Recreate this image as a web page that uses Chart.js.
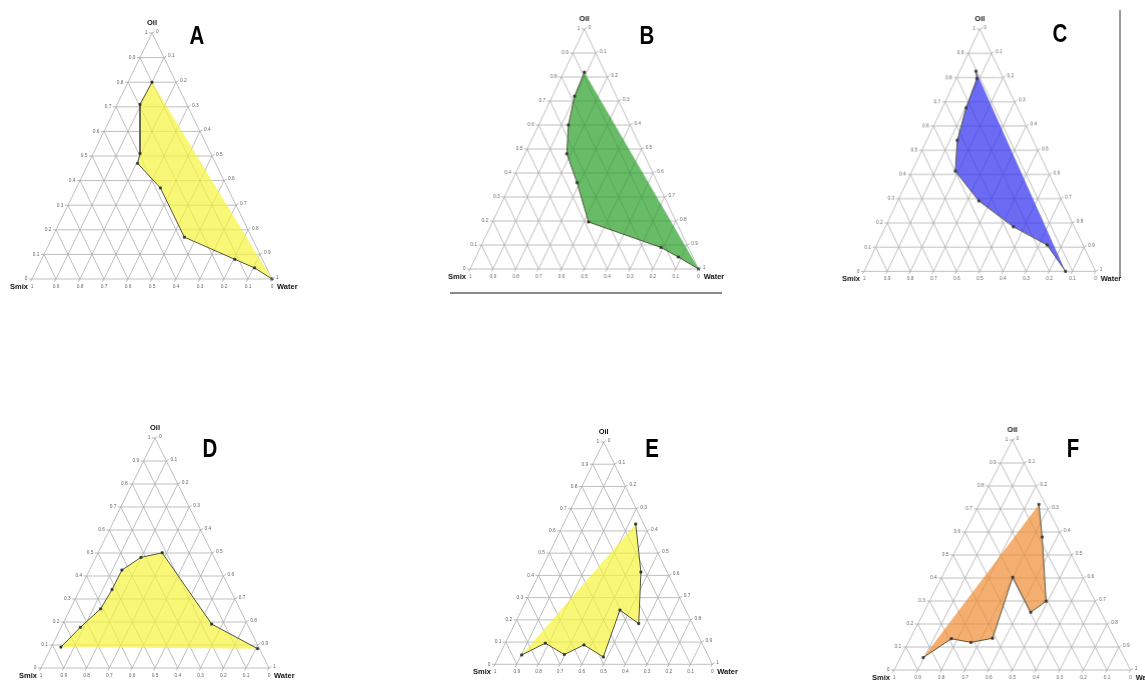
<!DOCTYPE html>
<html>
<head>
<meta charset="utf-8">
<script src="https://cdn.jsdelivr.net/npm/chart.js@4.4.1/dist/chart.umd.min.js"></script>
<style>
  html, body { margin: 0; padding: 0; background: #fff; width: 1145px; height: 680px; overflow: hidden; }
  .panel { position: absolute; }
  .letter { position: absolute; font-family: "Liberation Sans", Arial, sans-serif; font-weight: bold; font-size: 25px; color: #000; transform: translate(-50%, -50%) scaleX(0.82); line-height: 1; }
  .deco { position: absolute; background: #8a8a8a; }
</style>
</head>
<body>
<div class="deco" style="left:450px; top:292px; width:272px; height:2px;"></div>
<div class="deco" style="left:1119px; top:10px; width:1.5px; height:268px; background:#9a9a9a;"></div>
<script>
// ---------- data (ternary compositions: oil fraction, water fraction; Smix = 1 - oil - water) ----------
const panelNames = ['A', 'B', 'C', 'D', 'E', 'F'];
const gridTicks = [0.1, 0.2, 0.3, 0.4, 0.5, 0.6, 0.7, 0.8, 0.9];
const edgeTicks = [0, 0.1, 0.2, 0.3, 0.4, 0.5, 0.6, 0.7, 0.8, 0.9, 1];
const edgeTickLabels = ['0', '0.1', '0.2', '0.3', '0.4', '0.5', '0.6', '0.7', '0.8', '0.9', '1'];
const axisTitles = ['Oil', 'Smix', 'Water'];

const oilA   = [0.80, 0.71, 0.51, 0.47, 0.37, 0.17, 0.08, 0.045, 0.0];
const waterA = [0.10, 0.095, 0.195, 0.205, 0.35, 0.55, 0.805, 0.905, 1.0];

const oilB   = [0.82, 0.72, 0.60, 0.48, 0.36, 0.196, 0.09, 0.05, 0.0];
const waterB = [0.09, 0.097, 0.13, 0.183, 0.288, 0.42, 0.79, 0.886, 1.0];

const oilC   = [0.826, 0.796, 0.675, 0.541, 0.414, 0.291, 0.184, 0.109, 0.0];
const waterC = [0.07, 0.089, 0.103, 0.132, 0.187, 0.35, 0.553, 0.736, 0.87];

const oilD   = [0.091, 0.177, 0.257, 0.341, 0.426, 0.481, 0.501, 0.191, 0.084];
const waterD = [0.042, 0.084, 0.133, 0.141, 0.142, 0.198, 0.281, 0.653, 0.908];

const oilE   = [0.042, 0.095, 0.044, 0.087, 0.033, 0.244, 0.183, 0.415, 0.631];
const waterE = [0.102, 0.184, 0.297, 0.366, 0.482, 0.453, 0.57, 0.464, 0.332];

const oilF   = [0.054, 0.136, 0.12, 0.138, 0.403, 0.251, 0.299, 0.578, 0.72];
const waterF = [0.096, 0.174, 0.265, 0.347, 0.30, 0.452, 0.493, 0.337, 0.252];

const seriesOil   = [oilA, oilB, oilC, oilD, oilE, oilF];
const seriesWater = [waterA, waterB, waterC, waterD, waterE, waterF];

// ---------- layout / style (separate from data) ----------
const triBoxes = [
  { left: 31.7,  right: 271.7, top: 33.3,  bottom: 279.3, lx: 196.7, ly: 35 },
  { left: 470,   right: 697.7, top: 29.3,  bottom: 269.3, lx: 646.7, ly: 35 },
  { left: 864.3, right: 1095,  top: 29.3,  bottom: 270.7, lx: 1060,  ly: 33 },
  { left: 41,    right: 269,   top: 438.3, bottom: 668.3, lx: 210,   ly: 448 },
  { left: 495,   right: 712.3, top: 441.7, bottom: 664,   lx: 651.7, ly: 448 },
  { left: 894.3, right: 1130,  top: 440,   bottom: 670,   lx: 1073,  ly: 448 }
];
const fillColors = [
  'rgba(245,243,60,0.70)',
  'rgba(40,160,40,0.70)',
  'rgba(50,50,240,0.72)',
  'rgba(245,243,60,0.70)',
  'rgba(245,243,60,0.70)',
  'rgba(240,140,50,0.70)'
];
const PAD = { left: 40, right: 40, top: 25, bottom: 22 };

// ternary -> cartesian (Smix vertex at 0,0; Water vertex at 1,0; Oil vertex at 0.5,1)
function tern(oil, water) { return { x: water + oil / 2, y: oil }; }

function gridData() {
  const d = [];
  const seg = (a, b) => { d.push(a, b, { x: null, y: null }); };
  gridTicks.forEach(t => {
    seg(tern(t, 0), tern(t, 1 - t));          // constant oil
    seg(tern(0, t), tern(1 - t, t));          // constant water
    seg(tern(0, 1 - t), tern(1 - t, 0));      // constant smix
  });
  d.push(tern(0, 0), tern(0, 1), tern(1, 0), tern(0, 0));
  return d;
}

const ternaryLabels = {
  id: 'ternaryLabels',
  afterDraw(chart) {
    const ctx = chart.ctx;
    const xs = chart.scales.x, ys = chart.scales.y;
    const P = (p) => [xs.getPixelForValue(p.x), ys.getPixelForValue(p.y)];
    ctx.save();
    ctx.strokeStyle = '#9a9a9a';
    ctx.lineWidth = 0.7;
    ctx.fillStyle = '#666';
    ctx.font = '4.8px "Liberation Sans", Arial, sans-serif';
    edgeTicks.forEach((v, i) => {
      // left edge: oil fraction
      let [px, py] = P(tern(v, 0));
      ctx.beginPath(); ctx.moveTo(px - 3, py); ctx.lineTo(px, py); ctx.stroke();
      ctx.textAlign = 'right'; ctx.textBaseline = 'middle';
      ctx.fillText(edgeTickLabels[i], px - 4.5, py);
      // right edge: water fraction (1 - oil along the edge)
      [px, py] = P(tern(v, 1 - v));
      ctx.beginPath(); ctx.moveTo(px, py); ctx.lineTo(px + 2.5, py - 1.5); ctx.stroke();
      ctx.textAlign = 'left';
      ctx.fillText(edgeTickLabels[10 - i], px + 4, py - 1.5);
      // bottom edge: smix fraction
      [px, py] = P(tern(0, 1 - v));
      ctx.beginPath(); ctx.moveTo(px, py); ctx.lineTo(px - 1.5, py + 2.5); ctx.stroke();
      ctx.textAlign = 'center'; ctx.textBaseline = 'top';
      ctx.fillText(edgeTickLabels[i], px, py + 5);
    });
    ctx.fillStyle = '#111';
    ctx.font = 'bold 7.5px "Liberation Sans", Arial, sans-serif';
    let [ax, ay] = P(tern(1, 0));
    ctx.textAlign = 'center'; ctx.textBaseline = 'bottom';
    ctx.fillText(axisTitles[0], ax, ay - 6);
    ctx.font = 'bold 7.5px "Liberation Sans", Arial, sans-serif';
    let [sx, sy] = P(tern(0, 0));
    ctx.textAlign = 'right'; ctx.textBaseline = 'top';
    ctx.fillText(axisTitles[1], sx - 4, sy + 4);
    let [wx, wy] = P(tern(0, 1));
    ctx.textAlign = 'left';
    ctx.fillText(axisTitles[2], wx + 5, wy + 4);
    ctx.restore();
  }
};

panelNames.forEach((name, k) => {
  const b = triBoxes[k];
  const div = document.createElement('div');
  div.className = 'panel';
  div.style.left = (b.left - PAD.left) + 'px';
  div.style.top = (b.top - PAD.top) + 'px';
  div.style.width = (b.right - b.left + PAD.left + PAD.right) + 'px';
  div.style.height = (b.bottom - b.top + PAD.top + PAD.bottom) + 'px';
  const cv = document.createElement('canvas');
  div.appendChild(cv);
  document.body.appendChild(div);

  const lab = document.createElement('div');
  lab.className = 'letter';
  lab.style.left = b.lx + 'px';
  lab.style.top = b.ly + 'px';
  lab.textContent = name;
  document.body.appendChild(lab);

  const pts = seriesOil[k].map((o, i) => tern(o, seriesWater[k][i]));

  new Chart(cv, {
    type: 'scatter',
    data: {
      datasets: [
        {
          label: 'grid', data: gridData(), showLine: true, spanGaps: false,
          borderColor: '#aeaeae', borderWidth: 0.8, pointRadius: 0, fill: false, clip: false, order: 3
        },
        {
          label: 'region', data: pts, showLine: true, fill: 'shape',
          backgroundColor: fillColors[k], borderWidth: 0, borderColor: 'rgba(0,0,0,0)',
          pointRadius: 0, clip: false, order: 2
        },
        {
          label: 'boundary', data: pts, showLine: true, fill: false,
          borderColor: '#55553f', borderWidth: 1, pointStyle: 'rect', pointRadius: 1.6,
          pointBackgroundColor: '#333', pointBorderColor: '#333', pointBorderWidth: 0.5, clip: false, order: 1
        }
      ]
    },
    options: {
      responsive: true, maintainAspectRatio: false, animation: false, events: [],
      layout: { padding: PAD },
      scales: {
        x: { type: 'linear', min: 0, max: 1, display: false },
        y: { type: 'linear', min: 0, max: 1, display: false }
      },
      plugins: { legend: { display: false }, tooltip: { enabled: false } }
    },
    plugins: [ternaryLabels]
  });
});
</script>
</body>
</html>
